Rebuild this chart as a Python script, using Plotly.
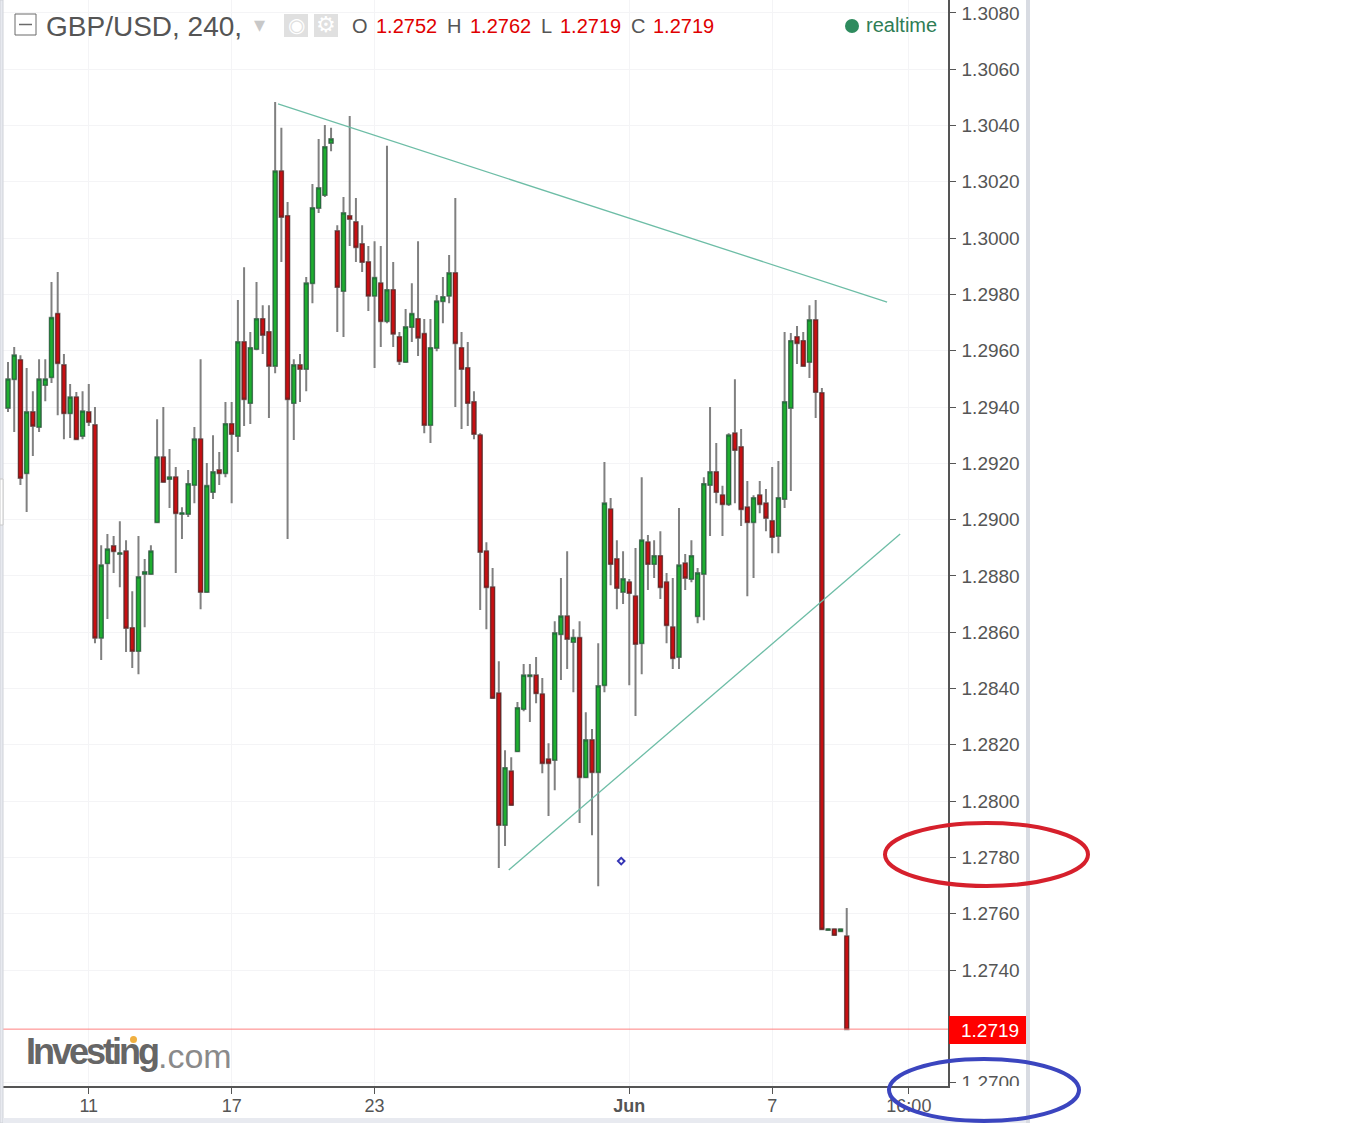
import plotly.graph_objects as go

# GBP/USD 240-minute candles
opens = [1.29397,1.29499,1.29567,1.29165,1.29382,1.29329,1.29478,1.29506,1.29731,1.29549,
1.29378,1.29435,1.29297,1.29382,1.29336,1.28580,1.28845,1.28906,1.28878,1.28888,
1.28615,1.28533,1.28807,1.28807,1.28991,1.29222,1.29144,1.29151,1.29020,1.29020,
1.29123,1.29286,1.28743,1.29098,1.29176,1.29165,1.29340,1.29297,1.29631,1.29414,
1.29606,1.29713,1.29667,1.29546,1.30238,1.30079,1.29414,1.29549,1.29535,1.29840,
1.30107,1.30153,1.30338,1.30025,1.29812,1.30079,1.30057,1.29979,1.29915,1.29795,
1.29840,1.29705,1.29816,1.29649,1.29560,1.29684,1.29713,1.29660,1.29336,1.29610,
1.29776,1.29795,1.29876,1.29610,1.29539,1.29418,1.29300,1.28888,1.28760,1.28383,
1.27915,1.28106,1.28177,1.28327,1.28444,1.28447,1.28380,1.28149,1.28146,1.28593,
1.28657,1.28565,1.28580,1.28085,1.28217,1.28103,1.28412,1.29037,1.28860,1.28743,
1.28778,1.28728,1.28561,1.28920,1.28842,1.28871,1.28778,1.28618,1.28512,1.28845,
1.28789,1.28657,1.28807,1.29123,1.29169,1.29087,1.29055,1.29307,1.29258,1.29044,
1.28991,1.29087,1.29058,1.28995,1.28942,1.29073,1.29397,1.29649,1.29635,1.29560,
1.29709,1.29450,1.27542,1.27545,1.27538,1.27520]
highs = [1.29560,1.29613,1.29584,1.29539,1.29456,1.29570,1.29570,1.29844,1.29880,1.29588,
1.29482,1.29453,1.29456,1.29482,1.29400,1.28909,1.28949,1.28942,1.28994,1.28927,
1.28746,1.28942,1.28860,1.28909,1.29357,1.29400,1.29251,1.29187,1.29044,1.29176,
1.29329,1.29570,1.29201,1.29300,1.29240,1.29418,1.29418,1.29780,1.29897,1.29667,
1.29844,1.29762,1.29762,1.30484,1.30392,1.30128,1.29570,1.29588,1.29862,1.30192,
1.30352,1.30402,1.30392,1.30046,1.30146,1.30434,1.30143,1.30046,1.29972,1.29989,
1.29972,1.30328,1.29915,1.29667,1.29748,1.29840,1.29989,1.29713,1.29713,1.29798,
1.29862,1.29940,1.30143,1.29667,1.29631,1.29456,1.29307,1.28920,1.28828,1.28497,
1.28181,1.28156,1.28352,1.28487,1.28487,1.28512,1.28437,1.28206,1.28639,1.28793,
1.28888,1.28611,1.28639,1.28316,1.28256,1.28561,1.29205,1.29077,1.28927,1.28888,
1.28789,1.28899,1.29151,1.28945,1.28927,1.28959,1.28810,1.28793,1.29041,1.28878,
1.28927,1.28828,1.29151,1.29400,1.29272,1.29120,1.29307,1.29499,1.29322,1.29137,
1.29087,1.29137,1.29109,1.29187,1.29208,1.29667,1.29663,1.29688,1.29667,1.29762,
1.29780,1.29468,1.27545,1.27545,1.27545,1.27620]
lows = [1.29382,1.29311,1.29123,1.29027,1.29226,1.29311,1.29421,1.29485,1.29371,1.29286,
1.29290,1.29286,1.29286,1.29333,1.28561,1.28501,1.28647,1.28810,1.28760,1.28530,
1.28473,1.28451,1.28618,1.28807,1.28991,1.29134,1.29041,1.28810,1.28931,1.29009,
1.29058,1.28682,1.28743,1.29073,1.29123,1.29151,1.29058,1.29240,1.29333,1.29340,
1.29602,1.29588,1.29361,1.29520,1.29915,1.28931,1.29283,1.29418,1.29456,1.29769,
1.30089,1.30146,1.30309,1.29667,1.29649,1.29972,1.29915,1.29880,1.29741,1.29539,
1.29613,1.29698,1.29613,1.29549,1.29560,1.29631,1.29581,1.29307,1.29272,1.29598,
1.29698,1.29769,1.29400,1.29322,1.29333,1.29286,1.28679,1.28611,1.28366,1.27762,
1.27841,1.27986,1.28177,1.28319,1.28281,1.28348,1.28099,1.27947,1.28039,1.28430,
1.28469,1.28387,1.27922,1.28082,1.27879,1.27698,1.28387,1.28767,1.28682,1.28700,
1.28412,1.28302,1.28451,1.28750,1.28793,1.28718,1.28561,1.28469,1.28469,1.28750,
1.28778,1.28632,1.28643,1.28942,1.29058,1.28942,1.29048,1.29058,1.28977,1.28728,
1.28793,1.29023,1.28959,1.28881,1.28881,1.29041,1.29102,1.29553,1.29542,1.29503,
1.29361,1.27545,1.27542,1.27524,1.27538,1.27190]
closes = [1.29499,1.29584,1.29148,1.29382,1.29333,1.29499,1.29499,1.29717,1.29556,1.29378,
1.29435,1.29286,1.29385,1.29347,1.28580,1.28838,1.28895,1.28888,1.28881,1.28615,
1.28533,1.28796,1.28814,1.28888,1.29222,1.29134,1.29151,1.29023,1.29023,1.29127,
1.29286,1.28743,1.29120,1.29169,1.29165,1.29340,1.29304,1.29631,1.29428,1.29610,
1.29713,1.29656,1.29546,1.30238,1.30075,1.29428,1.29549,1.29535,1.29840,1.30107,
1.30178,1.30324,1.30352,1.29826,1.30089,1.30068,1.29968,1.29915,1.29795,1.29859,
1.29705,1.29816,1.29660,1.29563,1.29684,1.29731,1.29646,1.29336,1.29610,1.29776,
1.29791,1.29876,1.29627,1.29535,1.29414,1.29304,1.28885,1.28760,1.28366,1.27915,
1.28118,1.27986,1.28331,1.28447,1.28447,1.28383,1.28135,1.28135,1.28597,1.28657,
1.28576,1.28580,1.28085,1.28217,1.28103,1.28409,1.29058,1.28842,1.28757,1.28789,
1.28739,1.28558,1.28927,1.28842,1.28871,1.28760,1.28625,1.28508,1.28838,1.28793,
1.28871,1.28810,1.29127,1.29169,1.29098,1.29055,1.29300,1.29247,1.29037,1.28991,
1.29077,1.29055,1.29006,1.28938,1.29077,1.29418,1.29635,1.29627,1.29546,1.29709,
1.29453,1.27545,1.27545,1.27524,1.27545,1.27190]
bars = list(range(len(opens)))

x_tick_bars = [13, 36, 59, 100, 123, 145]
x_tick_labels = ["11", "17", "23", "<b>Jun</b>", "7", "16:00"]
y_tick_values = [1.27, 1.274, 1.276, 1.278, 1.28, 1.282, 1.284, 1.286, 1.288, 1.29,
                 1.292, 1.294, 1.296, 1.298, 1.30, 1.302, 1.304, 1.306, 1.308]
y_tick_labels = [f"{v:.4f}" for v in y_tick_values]

upper_trend_x = [43.46, 141.5]
upper_trend_y = [1.30477, 1.29773]
lower_trend_x = [80.6, 143.6]
lower_trend_y = [1.27755, 1.28949]
marker_bar = [98.7]
marker_price = [1.27787]
last_price = 1.2719
header_quote = [("O", 352, "#555555"), ("1.2752", 376, "#e00000"), ("H", 447, "#555555"),
                ("1.2762", 470, "#e00000"), ("L", 541, "#555555"), ("1.2719", 560, "#e00000"),
                ("C", 631, "#555555"), ("1.2719", 653, "#e00000")]

L, R, B = 3, 948, 1086
def px(x): return (x - L) / (R - L)
def py(y): return (B - y) / B

GREEN, GREEN_EDGE, RED, RED_EDGE = "#1fae2f", "#1f6b38", "#c80f12", "#6f2020"
WICK = "#808080"
FONT = "Liberation Sans"

fig = go.Figure()
fig.add_trace(go.Candlestick(
    x=bars, open=opens, high=highs, low=lows, close=closes, whiskerwidth=0,
    increasing=dict(line=dict(color=WICK, width=2), fillcolor=WICK),
    decreasing=dict(line=dict(color=WICK, width=2), fillcolor=WICK),
    showlegend=False, hoverinfo="skip"))
fig.add_trace(go.Candlestick(
    x=bars, open=opens, close=closes,
    high=[max(o, c) for o, c in zip(opens, closes)],
    low=[min(o, c) for o, c in zip(opens, closes)], whiskerwidth=0,
    increasing=dict(line=dict(color=GREEN_EDGE, width=1), fillcolor=GREEN),
    decreasing=dict(line=dict(color=RED_EDGE, width=1), fillcolor=RED),
    showlegend=False))
for tx, ty in ((upper_trend_x, upper_trend_y), (lower_trend_x, lower_trend_y)):
    fig.add_trace(go.Scatter(x=tx, y=ty, mode="lines", showlegend=False,
                             line=dict(color="#6dbda6", width=1.3)))
fig.add_trace(go.Scatter(x=marker_bar, y=marker_price, mode="markers", showlegend=False,
                         marker=dict(symbol="diamond-open", size=5, color="#3535b5",
                                     line=dict(width=2, color="#3535b5"))))

shapes = []
def rect(x0, y0, x1, y1, fill, line=None):
    shapes.append(dict(type="rect", xref="paper", yref="paper", x0=px(x0), x1=px(x1),
                       y0=py(y1), y1=py(y0), fillcolor=fill, layer="above",
                       line=dict(color=line or fill, width=1 if line else 0)))

# last price line and label
shapes.append(dict(type="line", xref="paper", yref="y", x0=0, x1=1, y0=last_price, y1=last_price,
                   line=dict(color="#ff8080", width=1), layer="above"))
rect(949, 1016, 1026, 1044, "#ff0000")
# clip the lowest tick label
rect(950, 1086, 1026, 1118, "#ffffff")
# window frame
rect(0, 0, 3, 1123, "#e8eaf0", "#cfd2d8")
rect(0, 479, 3, 525, "#ffffff", "#c8c8c8")
rect(1026, 0, 1030, 1123, "#d8dbe2")
rect(3, 1118, 1026, 1123, "#e8eaf0")
# header icons
rect(15, 14, 36, 35, "#ffffff", "#6a6a6a")
shapes.append(dict(type="line", xref="paper", yref="paper", x0=px(19), x1=px(32), y0=py(24.5), y1=py(24.5),
                   line=dict(color="#6a6a6a", width=1.5), layer="above"))
rect(284, 14, 308, 37, "#e0e0e0")
rect(314, 14, 338, 37, "#e0e0e0")
shapes.append(dict(type="circle", xref="paper", yref="paper", x0=px(845), x1=px(859), y0=py(33), y1=py(19),
                   fillcolor="#2e8b5e", line=dict(width=0), layer="above"))
# logo dot
shapes.append(dict(type="circle", xref="paper", yref="paper", x0=px(130), x1=px(137), y0=py(1043), y1=py(1036),
                   fillcolor="#f0b040", line=dict(width=0), layer="above"))
# hand-drawn ellipses
shapes.append(dict(type="circle", xref="paper", yref="paper", x0=px(885), x1=px(1088), y0=py(886), y1=py(823),
                   line=dict(color="#d6202c", width=4), layer="above"))
shapes.append(dict(type="circle", xref="paper", yref="paper", x0=px(889), x1=px(1079), y0=py(1121), y1=py(1059),
                   line=dict(color="#3b45bf", width=4), layer="above"))

ann = []
def text(t, x, y, size, color, anchor="left", family=FONT):
    ann.append(dict(text=t, xref="paper", yref="paper", x=px(x), y=py(y), xanchor=anchor, yanchor="middle",
                    showarrow=False, font=dict(family=family, size=size, color=color),
                    borderpad=0, borderwidth=0))

text("GBP/USD, 240,", 46, 26, 28, "#555555")
text("▾", 259, 25, 22, "#c8c8c8", "center", "DejaVu Sans")
text("◉", 296, 25, 20, "#ffffff", "center", "DejaVu Sans")
text("⚙", 326, 25, 22, "#ffffff", "center", "DejaVu Sans")
for t, x, c in header_quote:
    text(t, x, 26, 20, c)
text("realtime", 866, 25, 20, "#2e7d55")
text('<b><span style="letter-spacing:-3px">Investing</span></b>', 26, 1051, 36, "#666666")
text(".com", 158, 1056, 34, "#8a8a8a")
text(f"{last_price:.4f}", 961, 1030, 19, "#ffffff")

fig.update_layout(
    width=1352, height=1123, margin=dict(l=L, r=1352 - R, t=0, b=1123 - B, autoexpand=False),
    paper_bgcolor="#ffffff", plot_bgcolor="#ffffff", boxmode="overlay", boxgap=0.18,
    showlegend=False, hovermode=False, shapes=shapes, annotations=ann,
    xaxis=dict(type="linear", range=[-0.805, 151.3], rangeslider_visible=False,
               tickmode="array", tickvals=x_tick_bars, ticktext=x_tick_labels,
               ticks="outside", ticklen=6, tickcolor="#555555", showline=True, linecolor="#555555", linewidth=1.5,
               showgrid=True, gridcolor="#f4f4f6", gridwidth=1, zeroline=False, ticklabelstandoff=-3,
               tickfont=dict(family=FONT, size=18, color="#555555")),
    yaxis=dict(side="right", range=[1.26988, 1.30846], tickmode="array", tickvals=y_tick_values,
               ticktext=y_tick_labels, ticks="outside", ticklen=6, tickcolor="#555555",
               showline=True, linecolor="#555555", linewidth=1.5,
               showgrid=True, gridcolor="#f4f4f6", gridwidth=1, zeroline=False, ticklabelstandoff=2,
               tickfont=dict(family=FONT, size=19, color="#555555")),
)
fig.write_html("out.html", config={"displayModeBar": False},
               post_script="document.body.style.margin='0';")
